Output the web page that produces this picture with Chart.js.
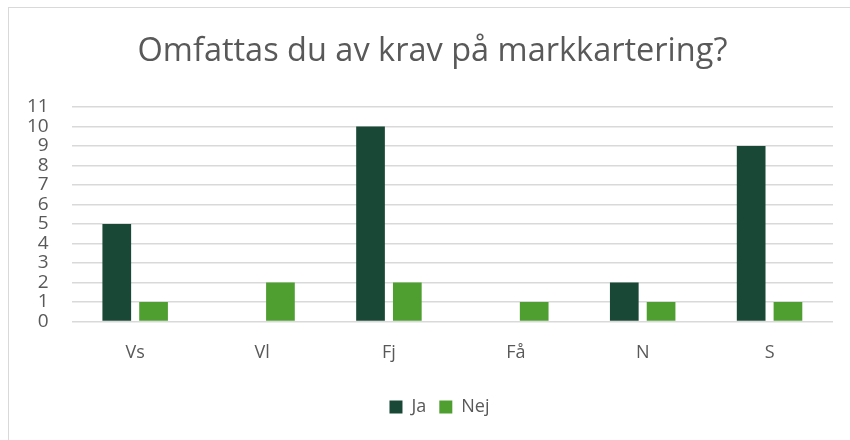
<!DOCTYPE html>
<html lang="sv">
<head>
  <meta charset="UTF-8" />
  <title>Omfattas du av krav på markkartering?</title>
  <script src="https://cdn.jsdelivr.net/npm/chart.js"></script>
  <style>
    body {
      margin: 0;
      background: #ffffff;
      overflow: hidden;
    }
    .ram {
      position: absolute;
      left: 8px;
      top: 7px;
      width: 900px;
      height: 500px;
      border-top: 1.5px solid #d9d9d9;
      border-left: 1.5px solid #d9d9d9;
    }
    #diagram {
      position: absolute;
      left: 0;
      top: 0;
    }
  </style>
</head>
<body>
  <div class="ram"></div>
  <canvas id="diagram" width="850" height="440"></canvas>

  <script>
    const kategorier = ['Vs', 'Vl', 'Fj', 'Få', 'N', 'S'];
    const ja = [5, 0, 10, 0, 2, 9];
    const nej = [1, 2, 2, 1, 1, 1];

    const textfarg = '#595959';
    const typsnitt = "'Open Sans', 'Liberation Sans', sans-serif";

    // titel och förklaring står lite till höger om mitten, som i Excel
    const flyttaBlock = {
      id: 'flyttaBlock',
      afterLayout(chart) {
        if (chart.titleBlock) {
          chart.titleBlock.left += 14;
          chart.titleBlock.right += 14;
        }
        if (chart.legend) {
          chart.legend.left += 21;
          chart.legend.right += 21;
        }
      }
    };

    const ctx = document.getElementById('diagram').getContext('2d');
    new Chart(ctx, {
      type: 'bar',
      data: {
        labels: kategorier,
        datasets: [
          {
            label: 'Ja',
            data: ja,
            backgroundColor: '#1a4836',
            borderWidth: 0
          },
          {
            label: 'Nej',
            data: nej,
            backgroundColor: '#4f9f30',
            borderWidth: 0
          }
        ]
      },
      plugins: [flyttaBlock],
      options: {
        responsive: false,
        animation: false,
        devicePixelRatio: 1,
        categoryPercentage: 0.58,
        barPercentage: 0.78,
        layout: {
          padding: { left: 4, right: 17, top: 32, bottom: 14 }
        },
        plugins: {
          title: {
            display: true,
            text: 'Omfattas du av krav på markkartering?',
            color: textfarg,
            font: { family: typsnitt, size: 32.5, weight: 'normal' },
            padding: { top: 0, bottom: 36 }
          },
          legend: {
            position: 'bottom',
            labels: {
              color: textfarg,
              font: { family: typsnitt, size: 18 },
              boxWidth: 13,
              boxHeight: 13,
              padding: 13
            }
          },
          tooltip: { enabled: false }
        },
        scales: {
          x: {
            grid: { display: false, drawTicks: false },
            border: { display: false },
            ticks: {
              color: textfarg,
              font: { family: typsnitt, size: 18 },
              padding: 21
            }
          },
          y: {
            min: 0,
            max: 11,
            grid: { color: '#d9d9d9', lineWidth: 1.5, drawTicks: false },
            border: { display: false },
            ticks: {
              stepSize: 1,
              autoSkip: false,
              color: textfarg,
              font: { family: typsnitt, size: 19 },
              padding: 23
            }
          }
        }
      }
    });
  </script>
</body>
</html>
